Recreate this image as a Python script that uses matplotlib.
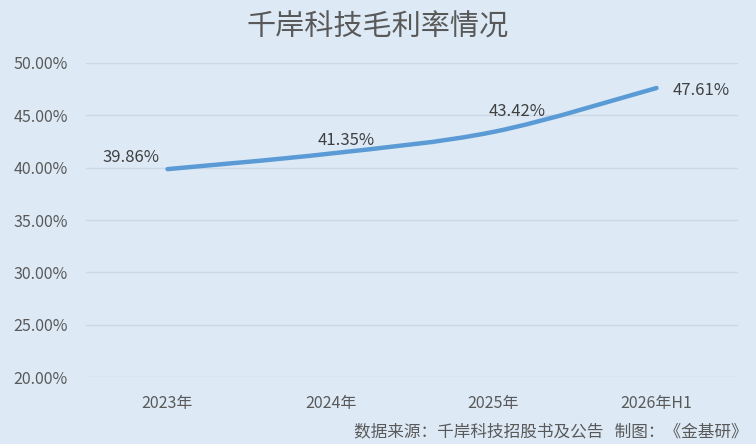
import matplotlib
matplotlib.use('Agg')
import matplotlib.pyplot as plt
from matplotlib.path import Path
from matplotlib.patches import PathPatch

plt.rcParams['font.family'] = ['Noto Sans CJK SC', 'DejaVu Sans']

categories = ['2023年', '2024年', '2025年', '2026年H1']
margin = [39.86, 41.35, 43.42, 47.61]
labels = ['39.86%', '41.35%', '43.42%', '47.61%']
yticks = [20, 25, 30, 35, 40, 45, 50]

bg = '#DDEAF6'
grey = '#595959'
blue = '#5B9BD5'

fig = plt.figure(figsize=(7.56, 4.44), dpi=100, facecolor=bg)
ax = fig.add_axes([86/756, 1-377/444, 652/756, 314/444], facecolor=bg)

x = list(range(len(margin)))

# smoothed line (Catmull-Rom style bezier through the points)
verts = [(x[0], margin[0])]
codes = [Path.MOVETO]
t = 1/6
for i in range(len(x)-1):
    p0 = (x[i-1], margin[i-1]) if i > 0 else (x[i], margin[i])
    p1 = (x[i], margin[i])
    p2 = (x[i+1], margin[i+1])
    p3 = (x[i+2], margin[i+2]) if i+2 < len(x) else p2
    c1 = (p1[0] + (p2[0]-p0[0])*t, p1[1] + (p2[1]-p0[1])*t)
    c2 = (p2[0] - (p3[0]-p1[0])*t, p2[1] - (p3[1]-p1[1])*t)
    verts += [c1, c2, p2]
    codes += [Path.CURVE4]*3
ax.add_patch(PathPatch(Path(verts, codes), facecolor='none', edgecolor=blue,
                       lw=3.2, capstyle='round', joinstyle='round', zorder=3))

offsets = [(-26, 8.5), (11.5, 9.5), (17, 14.5), (32, -1.5)]
for xi, yi, lab, off in zip(x, margin, labels, offsets):
    ax.annotate(lab, (xi, yi), xytext=off, textcoords='offset points',
                ha='center', va='center', fontsize=12, color='#404040')

ax.set_xlim(-0.5, 3.5)
ax.set_ylim(20, 50)
ax.set_yticks(yticks)
ax.set_yticklabels(['%.2f%%' % v for v in yticks])
ax.set_xticks(x)
ax.set_xticklabels(categories)
ax.tick_params(length=0, labelsize=11.5, labelcolor=grey)
ax.tick_params(axis='y', pad=13)
ax.tick_params(axis='x', pad=13)
ax.grid(axis='y', color='#CBD9E6', lw=1)
for s in ax.spines.values():
    s.set_visible(False)
ax.set_axisbelow(True)

fig.text(0.5, 1-28/444, '千岸科技毛利率情况', ha='center', va='center',
         fontsize=21, color=grey)
fig.text(748/756, 1-432/444, '数据来源：千岸科技招股书及公告   制图：《金基研》',
         ha='right', va='center', fontsize=12, color=grey)

fig.savefig('out.png', dpi=100, facecolor=bg)
